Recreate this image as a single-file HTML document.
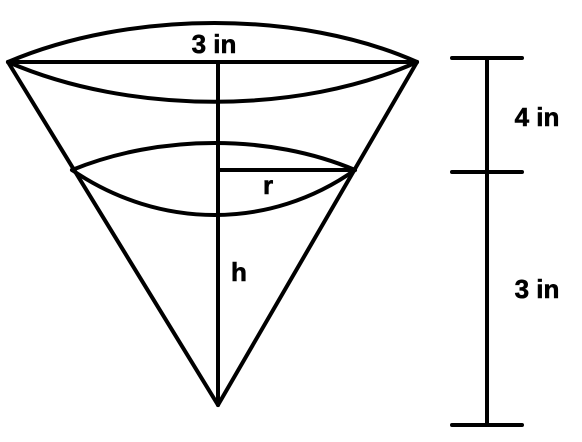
<!DOCTYPE html>
<html><head><meta charset="utf-8"><style>
html,body{margin:0;padding:0;background:#fff;}
svg{display:block;}
text{font-family:"Liberation Sans",sans-serif;font-weight:bold;font-size:26px;fill:#000;stroke:#000;stroke-width:0.6;}
</style></head><body>
<svg width="582" height="442" viewBox="0 0 582 442">
<g stroke="#000" stroke-width="4" fill="none" stroke-linecap="round">
<path d="M8,62 C130,10 300,10 417,62"/>
<path d="M8,62 C130,115 300,115 417,62"/>
<line x1="8" y1="62" x2="417" y2="62"/>
<line x1="8" y1="62" x2="218" y2="405"/>
<line x1="417" y1="62" x2="218" y2="405"/>
<line x1="218" y1="62" x2="218" y2="405"/>
<path d="M72,170 C160,134 270,134 355,170"/>
<path d="M72,170 C160,230 270,230 355,170"/>
<line x1="218" y1="170" x2="355" y2="170"/>
<line x1="487" y1="58" x2="487" y2="425"/>
<line x1="452" y1="58" x2="522" y2="58"/>
<line x1="452" y1="172" x2="522" y2="172"/>
<line x1="452" y1="425" x2="522" y2="425"/>
</g>
<text x="214" y="53" text-anchor="middle">3 in</text>
<text x="268" y="194" text-anchor="middle">r</text>
<text x="239" y="281" text-anchor="middle">h</text>
<text x="537" y="126" text-anchor="middle">4 in</text>
<text x="537" y="298" text-anchor="middle">3 in</text>
</svg>
</body></html>
